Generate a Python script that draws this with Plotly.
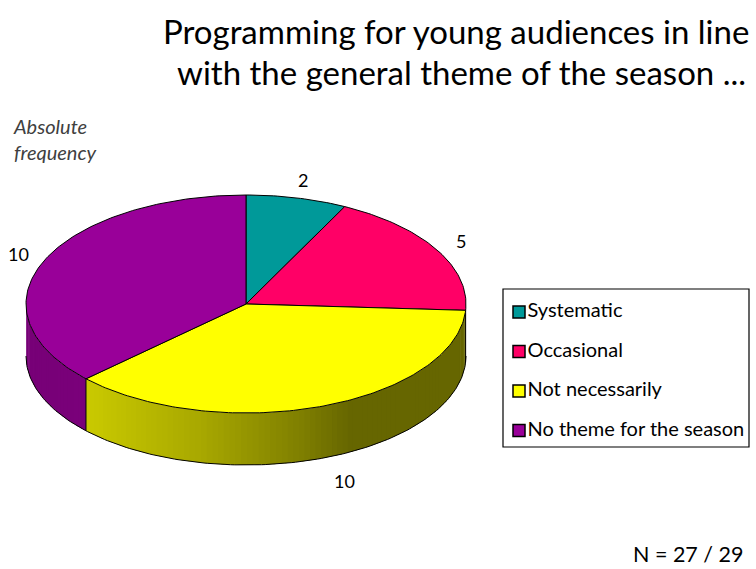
import numpy as np
import plotly.graph_objects as go

# Survey answers and their counts
categories = ["Systematic", "Occasional", "Not necessarily", "No theme for the season"]
counts = [2, 5, 10, 10]
top_colors = ["#009999", "#FF0066", "#FFFF00", "#990099"]
title_lines = ["Programming for young audiences in line", "with the general theme of the season ..."]
axis_note = "Absolute<br>frequency"
n_note = "N = 27 / 29"

FONT = "Lato"
W, H = 756, 569

# Geometry of the tilted pie (in page units)
CX, CY, RX, RY, DEPTH = 246, 304, 220, 109, 52


def edge(theta, dy=0.0):
    """Point on the rim; theta in degrees clockwise from 12 o'clock."""
    t = np.radians(theta)
    return CX + RX * np.sin(t), CY - RY * np.cos(t) + dy


def hex_rgb(h):
    h = h.lstrip("#")
    return [int(h[i:i + 2], 16) for i in (0, 2, 4)]


def shade(hexcol, f):
    r, g, b = hex_rgb(hexcol)
    return f"rgb({int(r * f)},{int(g * f)},{int(b * f)})"


def side_factor(x):
    # darker toward the right-hand side of the rim
    return float(np.interp(x, [26, 80, 200, 300, 350, 466], [0.78, 0.80, 0.66, 0.50, 0.40, 0.40]))


total = sum(counts)
bounds = np.concatenate([[0], np.cumsum(counts) / total * 360.0])

fig = go.Figure()

# --- rim (only the front half, 90..270 deg, is visible) ---
for i, col in enumerate(top_colors):
    a, b = max(bounds[i], 90.0), min(bounds[i + 1], 270.0)
    if b <= a:
        continue
    steps = np.linspace(a, b, max(2, int((b - a) / 1.5) + 1))
    for s0, s1 in zip(steps[:-1], steps[1:]):
        s1e = min(s1 + 0.7, b)  # overlap the next strip to hide seams
        arc = np.linspace(s0, s1e, 4)
        tx, ty = zip(*[edge(t) for t in arc])
        bx, by = zip(*[edge(t, DEPTH) for t in arc[::-1]])
        c = shade(col, side_factor(float(np.mean(tx))))
        fig.add_trace(go.Scatter(
            x=list(tx) + list(bx) + [tx[0]], y=list(ty) + list(by) + [ty[0]],
            mode="lines", fill="toself", fillcolor=c,
            line=dict(color=c, width=0), hoverinfo="skip", showlegend=False))

# rim outline: bottom arc and the slice seams on the front face
arc = np.linspace(90, 270, 181)
bx, by = zip(*[edge(t, DEPTH) for t in arc])
fig.add_trace(go.Scatter(x=list(bx), y=list(by), mode="lines",
                         line=dict(color="black", width=1), hoverinfo="skip", showlegend=False))
for t in bounds[1:-1]:
    if 90 < t < 270:
        xa, ya = edge(t)
        xb, yb = edge(t, DEPTH)
        fig.add_trace(go.Scatter(x=[xa, xb], y=[ya, yb], mode="lines",
                                 line=dict(color="black", width=1), hoverinfo="skip", showlegend=False))

# --- top face slices ---
for i, col in enumerate(top_colors):
    a, b = bounds[i], bounds[i + 1]
    ts = np.linspace(a, b, max(3, int(b - a) + 1))
    xs, ys = zip(*[edge(t) for t in ts])
    fig.add_trace(go.Scatter(
        x=[CX] + list(xs) + [CX], y=[CY] + list(ys) + [CY],
        mode="lines", fill="toself", fillcolor=col,
        line=dict(color="black", width=1), hoverinfo="skip", showlegend=False))

# --- value labels around the pie ---
for i, v in enumerate(counts):
    mid = (bounds[i] + bounds[i + 1]) / 2
    t = np.radians(mid)
    lx = CX + (RX + 28) * np.sin(t)
    ly = CY - (RY + 18) * np.cos(t)
    if np.cos(t) < 0:
        ly += DEPTH + 6
        lx += 14
    fig.add_annotation(x=lx, y=ly, text=str(v), showarrow=False,
                       font=dict(family=FONT, size=18, color="black"),
                       xanchor="center", yanchor="middle")

# --- legend box ---
LX0, LY0, LX1, LY1 = 503, 289, 749, 447
fig.add_shape(type="rect", x0=LX0, y0=LY0, x1=LX1, y1=LY1,
              line=dict(color="black", width=1.2), fillcolor="white", layer="below")
leg_y = [LY0 + 23 + 39.5 * k for k in range(len(categories))]
fig.add_trace(go.Scatter(
    x=[LX0 + 16] * len(categories), y=leg_y, mode="markers+text",
    marker=dict(symbol="square", size=12, color=top_colors, line=dict(color="black", width=1.5)),
    text=categories, textposition="middle right",
    textfont=dict(family=FONT, size=20, color="black"),
    hoverinfo="skip", showlegend=False))

# --- titles and notes ---
fig.add_annotation(x=456, y=31, text=title_lines[0], showarrow=False,
                   font=dict(family=FONT, size=33, color="black"), xanchor="center", yanchor="middle")
fig.add_annotation(x=461, y=72, text=title_lines[1], showarrow=False,
                   font=dict(family=FONT, size=33, color="black"), xanchor="center", yanchor="middle")
fig.add_annotation(x=11, y=139, text="<i>" + axis_note + "</i>", showarrow=False, align="left",
                   font=dict(family=FONT, size=20, color="#404040"), xanchor="left", yanchor="middle")
fig.add_annotation(x=746, y=554, text=n_note, showarrow=False,
                   font=dict(family=FONT, size=21.5, color="black"), xanchor="right", yanchor="middle")

fig.update_layout(
    width=W, height=H, margin=dict(l=0, r=0, t=0, b=0),
    paper_bgcolor="white", plot_bgcolor="white",
    xaxis=dict(range=[0, W], visible=False, fixedrange=True),
    yaxis=dict(range=[H, 0], visible=False, fixedrange=True),
    showlegend=False,
)

fig.write_html("out.html")
